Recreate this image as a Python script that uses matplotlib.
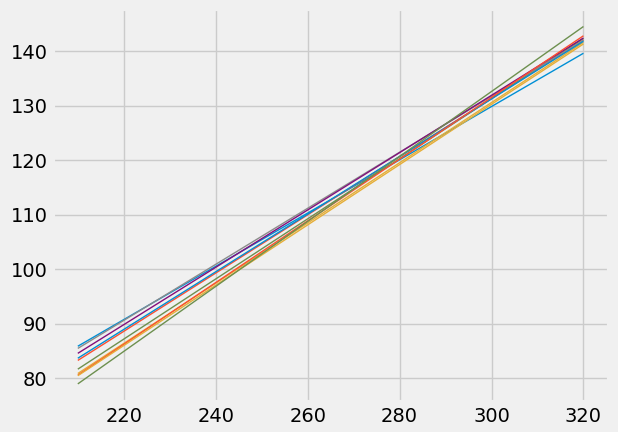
import matplotlib
matplotlib.use("Agg")
import matplotlib.pyplot as plt

plt.style.use("fivethirtyeight")
x_ends = [210, 320]
left = [85.9, 83.3, 80.9, 81.7, 85.5, 84.6, 83.7, 80.6, 80.5, 79.0]
right = [139.6, 142.0, 141.6, 142.3, 142.0, 142.4, 141.8, 142.8, 141.3, 144.5]

fig, ax = plt.subplots(figsize=(6.18, 4.32), dpi=100)
for l, r in zip(left, right):
    ax.plot(x_ends, [l, r], linewidth=1)
ax.set_xticks([220, 240, 260, 280, 300, 320])
ax.set_yticks([80, 90, 100, 110, 120, 130, 140])
fig.subplots_adjust(left=0.085, right=0.985, top=0.98, bottom=0.07)
fig.savefig("out.png", facecolor=fig.get_facecolor())
